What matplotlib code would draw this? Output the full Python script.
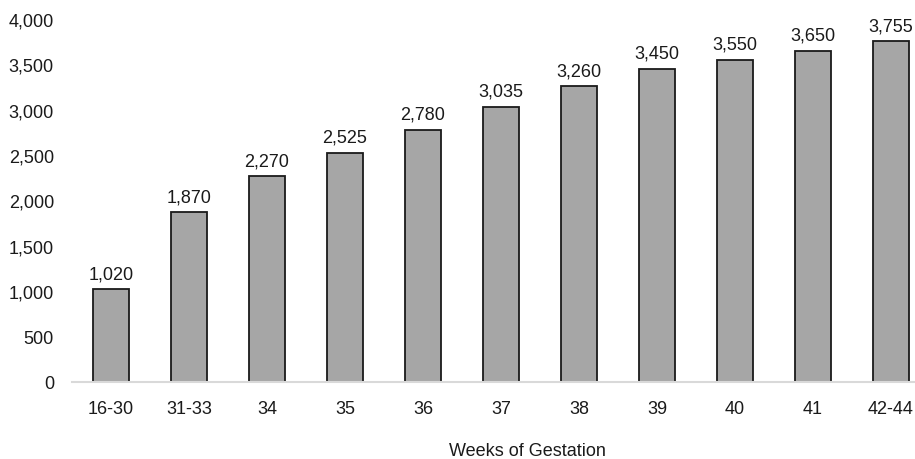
import matplotlib
matplotlib.use("Agg")
import matplotlib.pyplot as plt
from matplotlib.ticker import FuncFormatter

# data
weeks = ['16-30', '31-33', '34', '35', '36', '37', '38', '39', '40', '41', '42-44']
birth_weight = [1020, 1870, 2270, 2525, 2780, 3035, 3260, 3450, 3550, 3650, 3755]

plt.rcParams['font.family'] = ['Liberation Sans', 'DejaVu Sans']
fs = 13

W, H = 915, 460
fig = plt.figure(figsize=(W / 100, H / 100), dpi=100)
# axes runs past the right edge, like the cropped original
ax = fig.add_axes([72 / W, 1 - 383 / H, (930 - 72) / W, (383 - 20) / H])

x = list(range(len(weeks)))
bars = ax.bar(x, birth_weight, width=0.47, color='#A6A6A6', edgecolor='#1a1a1a', linewidth=1.3)

for b, v in zip(bars, birth_weight):
    ax.annotate(f'{v:,}', (b.get_x() + b.get_width() / 2, v), xytext=(0, 5),
                textcoords='offset points', ha='center', va='bottom', fontsize=fs, color='#1a1a1a')

ax.set_xlim(-0.5, 10.5)
ax.set_ylim(0, 4000)
ax.set_yticks(range(0, 4001, 500))
ax.yaxis.set_major_formatter(FuncFormatter(lambda v, p: f'{int(v):,}'))
ax.set_xticks(x)
ax.set_xticklabels(weeks)
ax.tick_params(axis='both', length=0, labelsize=fs, colors='#1a1a1a')
ax.tick_params(axis='y', pad=13)
ax.tick_params(axis='x', pad=13)

for s in ['top', 'right', 'left']:
    ax.spines[s].set_visible(False)
ax.spines['bottom'].set_color('#D9D9D9')
ax.spines['bottom'].set_linewidth(1.5)

fig.text(527 / W, 1 - 452 / H, 'Weeks of Gestation', ha='center', va='center', fontsize=fs, color='#1a1a1a')

fig.savefig('out.png', dpi=100)
